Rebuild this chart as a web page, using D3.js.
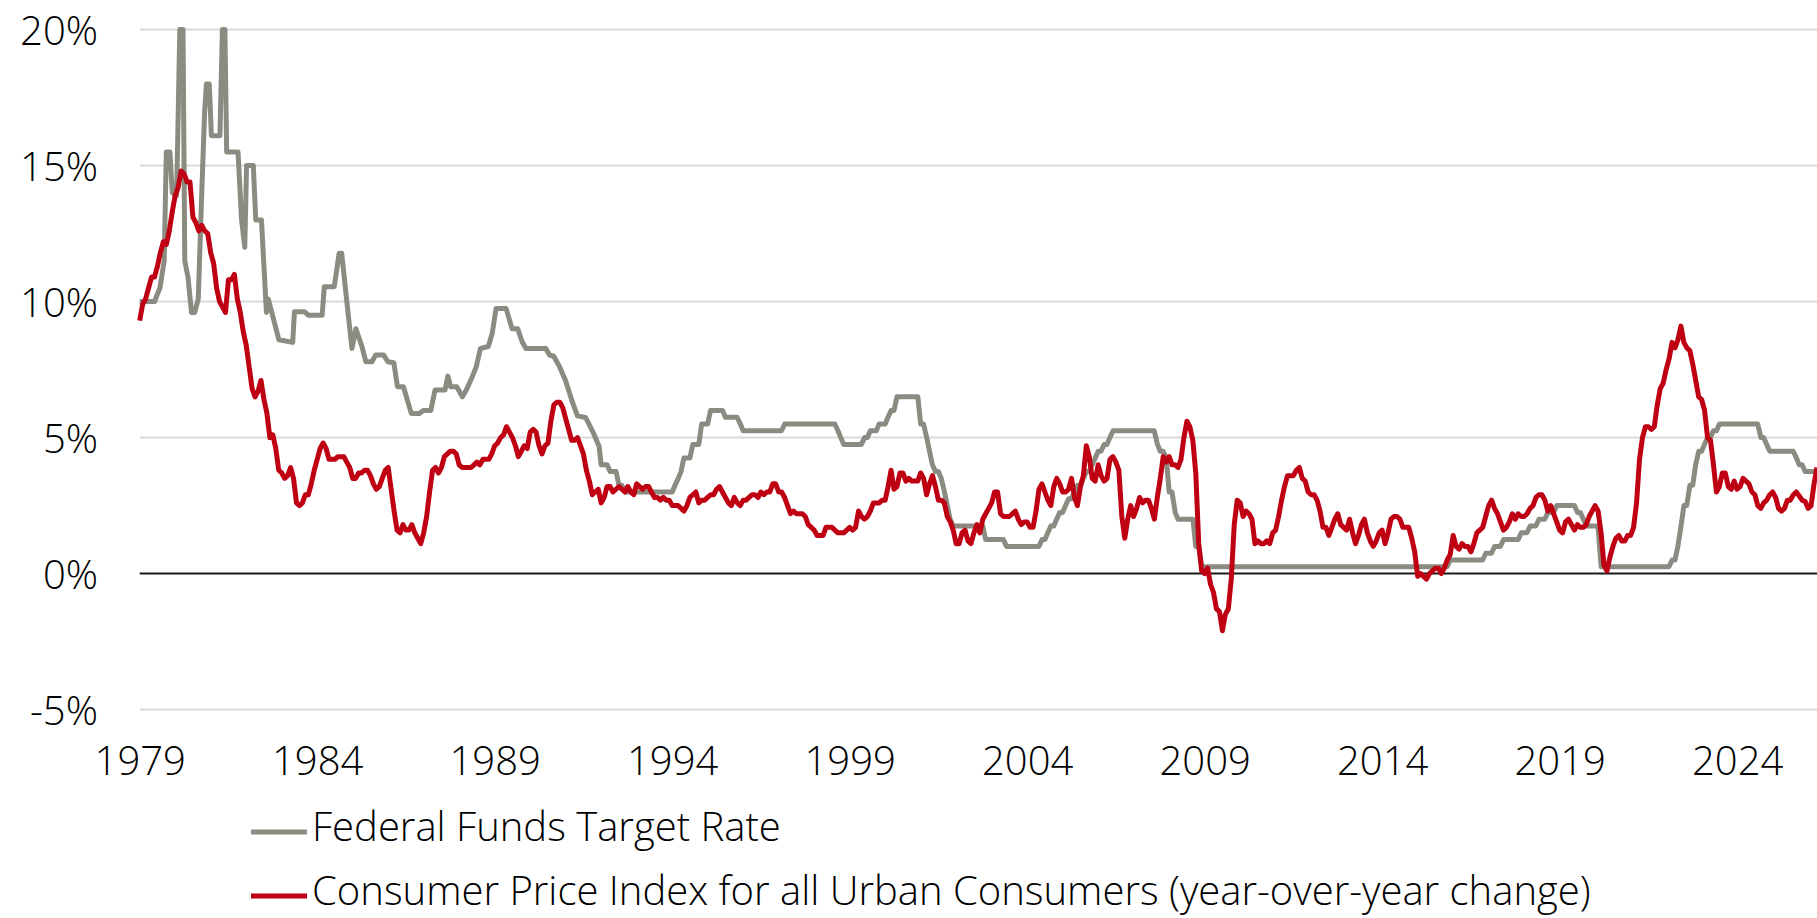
<!DOCTYPE html>
<html lang="en">
<head>
<meta charset="UTF-8">
<title>Federal Funds Target Rate vs CPI</title>
<style>
  html, body { margin: 0; padding: 0; background: #fff; }
  svg { display: block; }
  text { font-family: "Open Sans", sans-serif; font-weight: 300; fill: #000; }
</style>
</head>
<body>
<script src="https://d3js.org/d3.v7.min.js"></script>
<script>
// tick labels
const yearTicks = [1979, 1984, 1989, 1994, 1999, 2004, 2009, 2014, 2019, 2024];
const pctTicks = [-5, 0, 5, 10, 15, 20];

// Federal Funds target rate, [decimal year, %]
const fedFunds = [
  [1979.00, 10.0], [1979.42, 10.0], [1979.49, 10.25], [1979.57, 10.5], [1979.69, 11.5],
  [1979.75, 15.5], [1979.85, 15.5], [1979.92, 14.0], [1980.04, 13.9], [1980.13, 20.0],
  [1980.22, 20.0], [1980.27, 11.5], [1980.36, 10.9], [1980.46, 9.6], [1980.55, 9.6],
  [1980.65, 10.1], [1980.74, 13.7], [1980.83, 17.0], [1980.88, 18.0], [1980.96, 18.0],
  [1981.02, 16.1], [1981.26, 16.1], [1981.33, 20.0], [1981.40, 20.0], [1981.45, 15.5],
  [1981.77, 15.5], [1981.87, 13.0], [1981.96, 12.0], [1982.01, 15.0], [1982.20, 15.0],
  [1982.27, 13.0], [1982.43, 13.0], [1982.57, 9.6], [1982.62, 10.1], [1982.72, 9.6],
  [1982.92, 8.6], [1983.31, 8.5], [1983.36, 9.63], [1983.64, 9.63], [1983.75, 9.5],
  [1984.14, 9.5], [1984.20, 10.55], [1984.48, 10.55], [1984.62, 11.78], [1984.69, 11.78],
  [1984.87, 9.57], [1984.98, 8.28], [1985.09, 9.0], [1985.26, 8.35], [1985.37, 7.79],
  [1985.54, 7.79], [1985.65, 8.04], [1985.87, 8.04], [1985.99, 7.79], [1986.16, 7.75],
  [1986.26, 6.87], [1986.43, 6.87], [1986.65, 5.89], [1986.88, 5.89], [1986.99, 6.0],
  [1987.20, 6.0], [1987.32, 6.75], [1987.60, 6.75], [1987.68, 7.26], [1987.76, 6.87],
  [1987.93, 6.87], [1988.09, 6.5], [1988.20, 6.75], [1988.37, 7.24], [1988.48, 7.6],
  [1988.60, 8.28], [1988.82, 8.35], [1988.93, 8.83], [1989.04, 9.75], [1989.32, 9.75],
  [1989.49, 9.0], [1989.65, 9.0], [1989.77, 8.53], [1989.88, 8.28], [1990.44, 8.28],
  [1990.55, 8.03], [1990.66, 8.0], [1990.83, 7.6], [1990.99, 7.12], [1991.17, 6.38],
  [1991.33, 5.8], [1991.56, 5.74], [1991.78, 5.17], [1991.94, 4.68], [1992.00, 4.0],
  [1992.17, 4.0], [1992.25, 3.75], [1992.42, 3.75], [1992.50, 3.25], [1992.58, 3.25],
  [1992.67, 3.0], [1994.00, 3.0], [1994.08, 3.25], [1994.17, 3.5], [1994.25, 3.75],
  [1994.33, 4.25], [1994.50, 4.25], [1994.58, 4.75], [1994.75, 4.75], [1994.83, 5.5],
  [1995.00, 5.5], [1995.08, 6.0], [1995.42, 6.0], [1995.50, 5.75], [1995.83, 5.75],
  [1995.92, 5.5], [1996.00, 5.25], [1997.08, 5.25], [1997.17, 5.5], [1998.58, 5.5],
  [1998.67, 5.25], [1998.75, 5.0], [1998.83, 4.75], [1999.33, 4.75], [1999.42, 5.0],
  [1999.50, 5.0], [1999.58, 5.25], [1999.75, 5.25], [1999.83, 5.5], [2000.00, 5.5],
  [2000.08, 5.75], [2000.17, 6.0], [2000.25, 6.0], [2000.33, 6.5], [2000.92, 6.5],
  [2001.00, 5.5], [2001.08, 5.5], [2001.17, 5.0], [2001.25, 4.5], [2001.33, 4.0],
  [2001.42, 3.75], [2001.50, 3.75], [2001.58, 3.5], [2001.67, 3.0], [2001.75, 2.5],
  [2001.83, 2.0], [2001.92, 1.75], [2002.75, 1.75], [2002.83, 1.25], [2003.33, 1.25],
  [2003.42, 1.0], [2004.33, 1.0], [2004.42, 1.25], [2004.50, 1.25], [2004.58, 1.5],
  [2004.67, 1.75], [2004.75, 1.75], [2004.83, 2.0], [2004.92, 2.25], [2005.00, 2.25],
  [2005.08, 2.5], [2005.17, 2.75], [2005.25, 2.75], [2005.33, 3.0], [2005.42, 3.25],
  [2005.50, 3.25], [2005.58, 3.5], [2005.67, 3.75], [2005.75, 3.75], [2005.83, 4.0],
  [2005.92, 4.25], [2006.00, 4.5], [2006.08, 4.5], [2006.17, 4.75], [2006.25, 4.75],
  [2006.33, 5.0], [2006.42, 5.25], [2007.58, 5.25], [2007.67, 4.75], [2007.75, 4.5],
  [2007.83, 4.5], [2007.92, 4.25], [2008.00, 3.0], [2008.08, 3.0], [2008.17, 2.25],
  [2008.25, 2.0], [2008.67, 2.0], [2008.75, 1.0], [2008.83, 1.0], [2008.92, 0.25],
  [2015.83, 0.25], [2015.92, 0.5], [2016.83, 0.5], [2016.92, 0.75], [2017.08, 0.75],
  [2017.17, 1.0], [2017.33, 1.0], [2017.42, 1.25], [2017.83, 1.25], [2017.92, 1.5],
  [2018.08, 1.5], [2018.17, 1.75], [2018.33, 1.75], [2018.42, 2.0], [2018.58, 2.0],
  [2018.67, 2.25], [2018.83, 2.25], [2018.92, 2.5], [2019.42, 2.5], [2019.50, 2.25],
  [2019.58, 2.25], [2019.67, 2.0], [2019.75, 1.75], [2020.08, 1.75], [2020.17, 0.25],
  [2022.08, 0.25], [2022.17, 0.5], [2022.25, 0.5], [2022.33, 1.0], [2022.42, 1.75],
  [2022.50, 2.5], [2022.58, 2.5], [2022.67, 3.25], [2022.75, 3.25], [2022.83, 4.0],
  [2022.92, 4.5], [2023.00, 4.5], [2023.08, 4.75], [2023.17, 5.0], [2023.25, 5.0],
  [2023.33, 5.25], [2023.42, 5.25], [2023.50, 5.5], [2024.58, 5.5], [2024.67, 5.0],
  [2024.75, 5.0], [2024.83, 4.75], [2024.92, 4.5], [2025.58, 4.5], [2025.67, 4.25],
  [2025.75, 4.0], [2025.83, 4.0], [2025.92, 3.75], [2026.25, 3.75]
];

// CPI-U year-over-year change (%), one row per year Jan..Dec, starting 1979
const cpiFirstYear = 1979;
const cpiYoY = [
  [9.3, 9.9, 10.1, 10.5, 10.9, 10.9, 11.3, 11.8, 12.2, 12.1, 12.6, 13.3],
  [13.9, 14.2, 14.8, 14.7, 14.4, 14.4, 13.1, 12.9, 12.6, 12.8, 12.6, 12.5],
  [11.8, 11.4, 10.5, 10.0, 9.8, 9.6, 10.8, 10.8, 11.0, 10.1, 9.6, 8.9],
  [8.4, 7.6, 6.8, 6.5, 6.7, 7.1, 6.4, 5.9, 5.0, 5.1, 4.6, 3.8],
  [3.7, 3.5, 3.6, 3.9, 3.5, 2.6, 2.5, 2.6, 2.9, 2.9, 3.3, 3.8],
  [4.2, 4.6, 4.8, 4.6, 4.2, 4.2, 4.2, 4.3, 4.3, 4.3, 4.1, 3.9],
  [3.5, 3.5, 3.7, 3.7, 3.8, 3.8, 3.6, 3.3, 3.1, 3.2, 3.5, 3.8],
  [3.9, 3.1, 2.3, 1.6, 1.5, 1.8, 1.6, 1.6, 1.8, 1.5, 1.3, 1.1],
  [1.5, 2.1, 3.0, 3.8, 3.9, 3.7, 3.9, 4.3, 4.4, 4.5, 4.5, 4.4],
  [4.0, 3.9, 3.9, 3.9, 3.9, 4.0, 4.1, 4.0, 4.2, 4.2, 4.2, 4.4],
  [4.7, 4.8, 5.0, 5.1, 5.4, 5.2, 5.0, 4.7, 4.3, 4.5, 4.7, 4.6],
  [5.2, 5.3, 5.2, 4.7, 4.4, 4.7, 4.8, 5.6, 6.2, 6.3, 6.3, 6.1],
  [5.7, 5.3, 4.9, 4.9, 5.0, 4.7, 4.4, 3.8, 3.4, 2.9, 3.0, 3.1],
  [2.6, 2.8, 3.2, 3.2, 3.0, 3.1, 3.2, 3.1, 3.0, 3.2, 3.0, 2.9],
  [3.3, 3.2, 3.1, 3.2, 3.2, 3.0, 2.8, 2.8, 2.7, 2.8, 2.7, 2.7],
  [2.5, 2.5, 2.5, 2.4, 2.3, 2.5, 2.8, 2.9, 3.0, 2.6, 2.7, 2.7],
  [2.8, 2.9, 2.9, 3.1, 3.2, 3.0, 2.8, 2.6, 2.5, 2.8, 2.6, 2.5],
  [2.7, 2.7, 2.8, 2.9, 2.9, 2.8, 3.0, 2.9, 3.0, 3.0, 3.3, 3.3],
  [3.0, 3.0, 2.8, 2.5, 2.2, 2.3, 2.2, 2.2, 2.2, 2.1, 1.8, 1.7],
  [1.6, 1.4, 1.4, 1.4, 1.7, 1.7, 1.7, 1.6, 1.5, 1.5, 1.5, 1.6],
  [1.7, 1.6, 1.7, 2.3, 2.1, 2.0, 2.1, 2.3, 2.6, 2.6, 2.6, 2.7],
  [2.7, 3.2, 3.8, 3.1, 3.2, 3.7, 3.7, 3.4, 3.5, 3.4, 3.4, 3.4],
  [3.7, 3.5, 2.9, 3.3, 3.6, 3.2, 2.7, 2.7, 2.6, 2.1, 1.9, 1.6],
  [1.1, 1.1, 1.5, 1.6, 1.2, 1.1, 1.5, 1.8, 1.5, 2.0, 2.2, 2.4],
  [2.6, 3.0, 3.0, 2.2, 2.1, 2.1, 2.1, 2.2, 2.3, 2.0, 1.8, 1.9],
  [1.9, 1.7, 1.7, 2.3, 3.1, 3.3, 3.0, 2.7, 2.5, 3.2, 3.5, 3.3],
  [3.0, 3.0, 3.1, 3.5, 2.8, 2.5, 3.2, 3.6, 4.7, 4.3, 3.5, 3.4],
  [4.0, 3.6, 3.4, 3.5, 4.2, 4.3, 4.1, 3.8, 2.1, 1.3, 2.0, 2.5],
  [2.1, 2.4, 2.8, 2.6, 2.7, 2.7, 2.4, 2.0, 2.8, 3.5, 4.3, 4.1],
  [4.3, 4.0, 4.0, 3.9, 4.2, 5.0, 5.6, 5.4, 4.9, 3.7, 1.1, 0.1],
  [0.0, 0.2, -0.4, -0.7, -1.3, -1.4, -2.1, -1.5, -1.3, -0.2, 1.8, 2.7],
  [2.6, 2.1, 2.3, 2.2, 2.0, 1.1, 1.2, 1.1, 1.1, 1.2, 1.1, 1.5],
  [1.6, 2.1, 2.7, 3.2, 3.6, 3.6, 3.6, 3.8, 3.9, 3.5, 3.4, 3.0],
  [2.9, 2.9, 2.7, 2.3, 1.7, 1.7, 1.4, 1.7, 2.0, 2.2, 1.8, 1.7],
  [1.6, 2.0, 1.5, 1.1, 1.4, 1.8, 2.0, 1.5, 1.2, 1.0, 1.2, 1.5],
  [1.6, 1.1, 1.5, 2.0, 2.1, 2.1, 2.0, 1.7, 1.7, 1.7, 1.3, 0.8],
  [-0.1, 0.0, -0.1, -0.2, 0.0, 0.1, 0.2, 0.2, 0.0, 0.2, 0.5, 0.7],
  [1.4, 1.0, 0.9, 1.1, 1.0, 1.0, 0.8, 1.1, 1.5, 1.6, 1.7, 2.1],
  [2.5, 2.7, 2.4, 2.2, 1.9, 1.6, 1.7, 1.9, 2.2, 2.0, 2.2, 2.1],
  [2.1, 2.2, 2.4, 2.5, 2.8, 2.9, 2.9, 2.7, 2.3, 2.5, 2.2, 1.9],
  [1.6, 1.5, 1.9, 2.0, 1.8, 1.6, 1.8, 1.7, 1.7, 1.8, 2.1, 2.3],
  [2.5, 2.3, 1.5, 0.3, 0.1, 0.6, 1.0, 1.3, 1.4, 1.2, 1.2, 1.4],
  [1.4, 1.7, 2.6, 4.2, 5.0, 5.4, 5.4, 5.3, 5.4, 6.2, 6.8, 7.0],
  [7.5, 7.9, 8.5, 8.3, 8.6, 9.1, 8.5, 8.3, 8.2, 7.7, 7.1, 6.5],
  [6.4, 6.0, 5.0, 4.9, 4.0, 3.0, 3.2, 3.7, 3.7, 3.2, 3.1, 3.4],
  [3.1, 3.2, 3.5, 3.4, 3.3, 3.0, 2.9, 2.5, 2.4, 2.6, 2.7, 2.9],
  [3.0, 2.8, 2.4, 2.3, 2.4, 2.7, 2.7, 2.9, 3.0, 2.85, 2.7, 2.65],
  [2.4, 2.5, 3.3, 3.9]
];

const seriesNames = [
  "Federal Funds Target Rate",
  "Consumer Price Index for all Urban Consumers (year-over-year change)"
];
const seriesColors = ["#8c8b82", "#bf0012"];

const width = 1817, height = 918;

const svg = d3.select("body").append("svg")
  .attr("width", width)
  .attr("height", height);

const x = d3.scaleLinear().domain([1979, 2026.25]).range([139.7, 1817]);
const y = d3.scaleLinear().domain([-5, 20]).range([709.6, 29.6]);

// monthly CPI points
const cpi = [];
cpiYoY.forEach((row, i) => {
  row.forEach((v, m) => cpi.push([cpiFirstYear + i + m / 12, v]));
});

// gridlines
svg.append("g")
  .selectAll("line")
  .data(pctTicks.filter(d => d !== 0))
  .enter()
  .append("line")
  .attr("x1", x.range()[0])
  .attr("x2", x.range()[1])
  .attr("y1", d => y(d))
  .attr("y2", d => y(d))
  .style("stroke", "#d9d9d9")
  .style("stroke-width", 2);

// y axis
const yAxis = svg.append("g")
  .attr("transform", "translate(98,0)")
  .call(d3.axisLeft(y).tickValues(pctTicks).tickFormat(d => d + "%").tickSize(0).tickPadding(0));
yAxis.select(".domain").remove();
yAxis.selectAll("text")
  .attr("x", 0)
  .attr("dy", "0.36em")
  .style("font-size", "40px")
  .style("font-family", '"Open Sans", sans-serif')
  .style("font-weight", 300)
  .style("fill", "#000");

// x axis
const xAxis = svg.append("g")
  .attr("transform", "translate(0,775)")
  .call(d3.axisBottom(x).tickValues(yearTicks).tickFormat(d3.format("d")).tickSize(0));
xAxis.select(".domain").remove();
xAxis.selectAll("text")
  .attr("y", 0)
  .attr("dy", 0)
  .style("font-size", "40px")
  .style("font-family", '"Open Sans", sans-serif')
  .style("font-weight", 300)
  .style("fill", "#000");

// zero line
svg.append("line")
  .attr("x1", x.range()[0])
  .attr("x2", x.range()[1])
  .attr("y1", y(0))
  .attr("y2", y(0))
  .style("stroke", "#1a1a1a")
  .style("stroke-width", 2);

const line = d3.line()
  .x(d => x(d[0]))
  .y(d => y(d[1]));

[fedFunds, cpi].forEach((data, i) => {
  svg.append("path")
    .datum(data)
    .attr("d", line)
    .style("fill", "none")
    .style("stroke", seriesColors[i])
    .style("stroke-width", 5)
    .style("stroke-linejoin", "round")
    .style("stroke-linecap", "butt");
});

// legend
const legend = svg.append("g")
  .selectAll("g")
  .data(seriesNames)
  .enter()
  .append("g")
  .attr("transform", (d, i) => "translate(251," + (832 + i * 64) + ")");

legend.append("line")
  .attr("x1", 0)
  .attr("x2", 56)
  .attr("y1", 0)
  .attr("y2", 0)
  .style("stroke", (d, i) => seriesColors[i])
  .style("stroke-width", 5);

legend.append("text")
  .attr("x", 61)
  .attr("y", 9)
  .style("font-size", "40px")
  .text(d => d);
</script>
</body>
</html>
